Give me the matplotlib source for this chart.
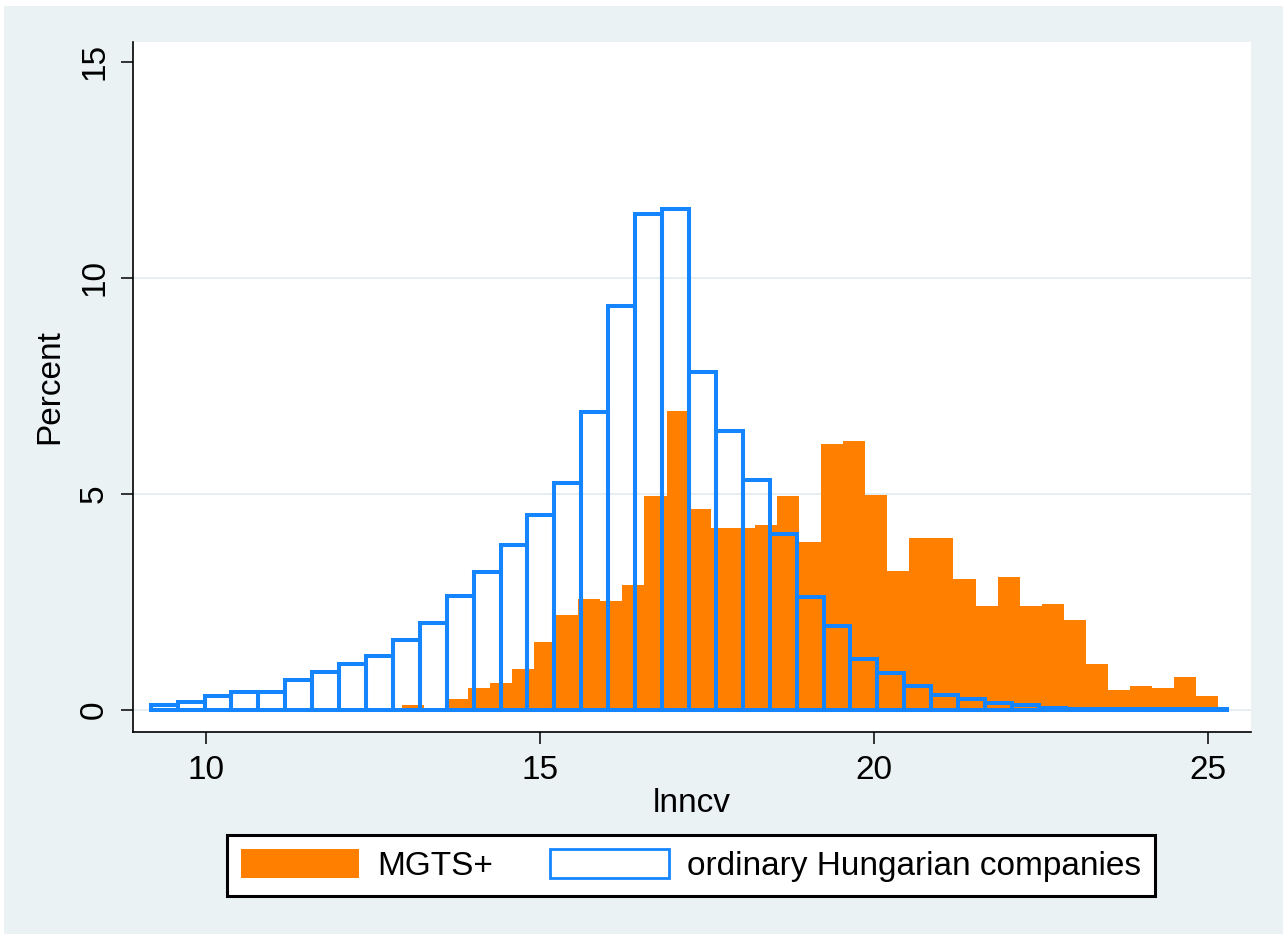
import matplotlib
matplotlib.use("Agg")
import matplotlib.pyplot as plt
import numpy as np
from matplotlib.patches import Patch, Rectangle

# ---------------- data ----------------
series_names = ["MGTS+", "ordinary Hungarian companies"]
x_label = "lnncv"
y_label = "Percent"
x_ticks = [10, 15, 20, 25]
y_ticks = [0, 5, 10, 15]

# MGTS+ histogram (percent per bin)
mgts_bin_start = 12.929
mgts_bin_width = 0.3303
mgts_values = [0.12, 0.0, 0.25, 0.50, 0.62, 0.95, 1.57, 2.20, 2.57, 2.51,
               2.88, 4.96, 6.91, 4.64, 4.20, 4.20, 4.28, 4.96, 3.89, 6.15,
               6.23, 4.97, 3.21, 3.97, 3.97, 3.02, 2.40, 3.08, 2.40, 2.46,
               2.07, 1.07, 0.45, 0.56, 0.51, 0.76, 0.31]

# ordinary Hungarian companies histogram (percent per bin)
ord_bin_start = 9.172
ord_bin_width = 0.4028
ord_values = [0.12, 0.17, 0.31, 0.42, 0.41, 0.68, 0.87, 1.05, 1.24, 1.62,
              2.01, 2.63, 3.18, 3.81, 4.51, 5.26, 6.89, 9.35, 11.48, 11.59,
              7.82, 6.46, 5.32, 4.07, 2.61, 1.93, 1.18, 0.86, 0.55, 0.35,
              0.24, 0.16, 0.11, 0.04, 0.03, 0.02, 0.02, 0.01, 0.01, 0.01]

# ---------------- styling ----------------
ORANGE = "#FF8000"
BLUE = "#1585FF"
BG = "#EAF2F3"
GRID = "#E3EDEF"
W, H = 1283, 934

plt.rcParams["font.family"] = ["Liberation Sans", "DejaVu Sans"]

fig = plt.figure(figsize=(W / 100, H / 100), dpi=100, facecolor="white")
fig.patches.append(Rectangle((4 / W, 0), 1, 1 - 6 / H, transform=fig.transFigure,
                             facecolor=BG, edgecolor="none", zorder=-10))

ax = fig.add_axes([133 / W, 1 - 731.7 / H, (1250.5 - 133) / W, (731.7 - 42) / H])
ax.set_facecolor("white")

mgts_edges = mgts_bin_start + mgts_bin_width * np.arange(len(mgts_values))
ord_edges = ord_bin_start + ord_bin_width * np.arange(len(ord_values))

ax.bar(mgts_edges, mgts_values, width=mgts_bin_width, align="edge",
       color=ORANGE, linewidth=0, zorder=2)
ax.bar(ord_edges, ord_values, width=ord_bin_width, align="edge",
       facecolor="none", edgecolor=BLUE, linewidth=2.9, zorder=3)

ax.set_xlim(8.907, 25.632)
ax.set_ylim(-0.507, 15.458)
ax.set_xticks(x_ticks)
ax.set_yticks(y_ticks)
for yv in y_ticks[:-1]:
    ax.axhline(yv, color=GRID, linewidth=1.3, zorder=1)

for s in ["top", "right"]:
    ax.spines[s].set_visible(False)
for s in ["left", "bottom"]:
    ax.spines[s].set_color("black")
    ax.spines[s].set_linewidth(1.2)

ax.tick_params(axis="both", direction="out", length=8.5, width=1.1,
               labelsize=24, pad=8, colors="black")
for lab in ax.get_yticklabels():
    lab.set_rotation(90)
    lab.set_va("center")

ax.set_xlabel(x_label, fontsize=24, labelpad=2)
ax.set_ylabel(y_label, fontsize=24, labelpad=10)

handles = [Patch(facecolor=ORANGE, edgecolor="none", label=series_names[0]),
           Patch(facecolor="white", edgecolor=BLUE, linewidth=2, label=series_names[1])]
leg = fig.legend(handles=handles, loc="center", bbox_to_anchor=(691 / W, 1 - 865.5 / H),
                 ncol=2, frameon=True, fancybox=False, edgecolor="black", framealpha=1,
                 prop={"family": "Liberation Sans", "size": 24},
                 handlelength=3.55, handleheight=0.95, handletextpad=0.55,
                 columnspacing=1.7, borderpad=0.42, borderaxespad=0)
leg.get_frame().set_linewidth(2.2)

fig.savefig("out.png", dpi=100, facecolor=fig.get_facecolor())
